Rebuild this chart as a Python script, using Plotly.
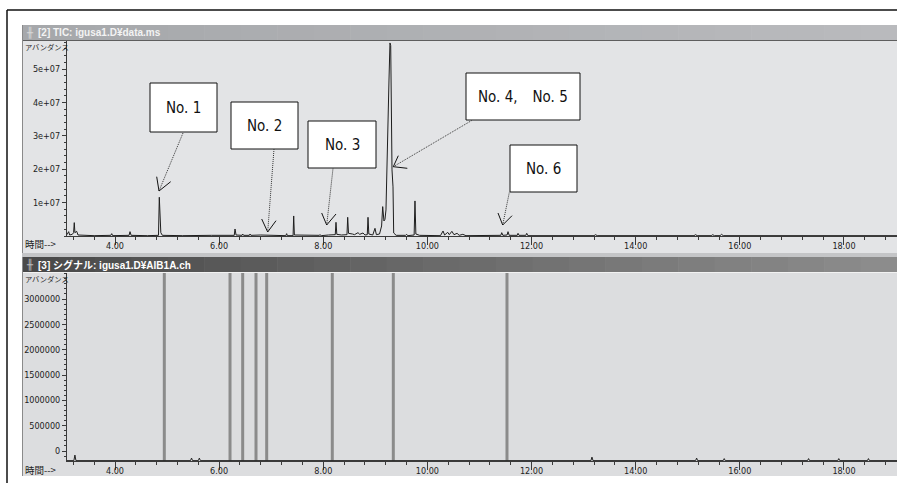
import plotly.graph_objects as go

W, H = 897, 483

# ---------------- data ----------------
# TIC chromatogram vertices: retention time (min) and abundance (x1e6 counts)
TIC_TIME = [3.078, 3.11, 3.13, 3.18, 3.205, 3.218, 3.23, 3.264, 3.29, 3.40, 3.60,
            3.92, 3.937, 3.955, 4.27, 4.288, 4.31, 4.62, 4.835, 4.851, 4.866, 4.88,
            4.91, 5.30, 5.85, 6.05, 6.29, 6.305, 6.325, 6.44, 6.452, 6.47, 6.58,
            6.593, 6.61, 6.80, 7.00, 7.28, 7.297, 7.31, 7.42, 7.432, 7.445, 7.70,
            7.92, 7.937, 7.96, 8.10, 8.23, 8.244, 8.26, 8.35, 8.455, 8.469, 8.485,
            8.56, 8.60, 8.667, 8.70, 8.763, 8.80, 8.845, 8.859, 8.875, 8.95, 8.993,
            9.02, 9.08, 9.12, 9.141, 9.165, 9.185, 9.204, 9.262, 9.281, 9.295,
            9.320, 9.339, 9.345, 9.352, 9.40, 9.58, 9.602, 9.62, 9.745, 9.761,
            9.778, 9.85, 10.25, 10.30, 10.33, 10.39, 10.42, 10.47, 10.51, 10.57,
            10.61, 10.68, 10.74, 11.10, 11.41, 11.427, 11.45, 11.53, 11.548, 11.57,
            11.725, 11.74, 11.76, 11.89, 11.907, 11.93, 12.30, 13.20, 13.23, 13.26,
            15.12, 15.15, 15.18, 15.45, 15.48, 15.51, 15.62, 15.65, 15.68, 19.02]
TIC_ABUND_M = [0.4, 1.3, 0.3, 0.5, 1.0, 4.0, 1.0, 1.4, 0.3, 0.2, 0.1,
               0.2, 0.7, 0.1, 0.2, 1.3, 0.2, 0.1, 0.2, 11.6, 7.5, 1.0,
               0.2, 0.1, 0.2, 0.1, 0.2, 2.1, 0.3, 0.2, 0.6, 0.2, 0.2,
               0.6, 0.2, 0.3, 0.2, 0.1, 0.7, 0.1, 0.1, 6.0, 0.3, 0.2,
               0.2, 0.4, 0.1, 0.3, 0.4, 4.1, 0.5, 0.3, 0.4, 5.6, 0.8,
               0.6, 0.4, 1.0, 0.5, 0.9, 0.3, 0.4, 5.6, 0.6, 0.3, 2.3,
               0.4, 0.6, 3.0, 8.8, 4.5, 5.0, 7.8, 46.7, 57.8, 57.0,
               19.8, 14.7, 4.0, 0.9, 0.2, 0.2, 0.5, 0.1, 0.3, 10.5,
               0.6, 0.2, 0.1, 1.5, 0.3, 1.1, 0.4, 1.4, 0.4, 0.8,
               0.2, 0.5, 0.1, 0.1, 0.2, 1.0, 0.2, 0.3, 1.3, 0.2,
               0.2, 0.8, 0.2, 0.2, 0.8, 0.1, 0.1, 0.1, 0.4, 0.1,
               0.1, 0.4, 0.1, 0.1, 0.4, 0.1, 0.1, 0.5, 0.1, 0.1]

# Signal channel: off-scale peaks (retention time, height) and baseline level
SIG_PEAK_TIME = [4.947, 6.209, 6.452, 6.708, 6.913, 8.173, 9.345, 11.528]
SIG_PEAK_HEIGHT = [3.6e6, 3.6e6, 3.6e6, 3.6e6, 3.6e6, 3.6e6, 3.7e6, 3.7e6]
SIG_BASELINE = -190000
SIG_NOISE_TIME = [3.078, 3.21, 3.23, 3.25, 5.45, 5.47, 5.49, 5.60, 5.62, 5.64,
                  13.14, 13.16, 13.18, 15.15, 15.17, 15.19, 15.68, 15.70, 15.72,
                  17.30, 17.32, 17.34, 17.88, 17.90, 17.92, 18.45, 18.47, 18.49, 19.02]
SIG_NOISE_VALUE = [-190000, -190000, -80000, -190000, -190000, -140000, -190000,
                   -190000, -140000, -190000, -190000, -120000, -190000, -190000,
                   -140000, -190000, -190000, -150000, -190000, -190000, -150000,
                   -190000, -190000, -150000, -190000, -190000, -150000, -190000,
                   -190000]

TIC_YTICKS = [1e7, 2e7, 3e7, 4e7, 5e7]
TIC_YTICK_TEXT = ["1e+07", "2e+07", "3e+07", "4e+07", "5e+07"]
SIG_YTICKS = [0, 500000, 1000000, 1500000, 2000000, 2500000, 3000000]

LABELS = ["No. 1", "No. 2", "No. 3", "No. 4,\u3000No. 5", "No. 6"]

TITLE_TIC = "[2] TIC: igusa1.D\u00a5data.ms"
TITLE_SIG = "[3] \u30b7\u30b0\u30ca\u30eb: igusa1.D\u00a5AIB1A.ch"
Y_TITLE = "\u30a2\u30d0\u30f3\u30c0\u30f3\u30b9"
X_TITLE = "\u6642\u9593-->"

# ---------------- layout helpers (pixel -> paper) ----------------
def px(x):
    return x / W


def py(y):
    return 1 - y / H


TIC_Y_SCALE = [v * 1e6 for v in TIC_ABUND_M]

NARROW = "Liberation Sans Narrow, Arial Narrow, DejaVu Sans Condensed, Roboto Condensed, sans-serif"
JP = "Noto Sans CJK JP, sans-serif"

fig = go.Figure()

fig.add_trace(go.Scatter(
    x=TIC_TIME, y=TIC_Y_SCALE, mode="lines",
    line=dict(color="#1e1e1e", width=1), xaxis="x", yaxis="y",
    showlegend=False, hoverinfo="skip"))

sx, sy = [], []
for t, h in zip(SIG_PEAK_TIME, SIG_PEAK_HEIGHT):
    sx += [t, t, None]
    sy += [SIG_BASELINE, h, None]
fig.add_trace(go.Scatter(
    x=sx, y=sy, mode="lines", line=dict(color="#8b8b8b", width=3),
    xaxis="x2", yaxis="y2", showlegend=False, hoverinfo="skip"))
fig.add_trace(go.Scatter(
    x=SIG_NOISE_TIME, y=SIG_NOISE_VALUE, mode="lines",
    line=dict(color="#222222", width=1), xaxis="x2", yaxis="y2",
    showlegend=False, hoverinfo="skip"))

X0_PX, X1_PX = 67, 897
T_AT_4, PX_PER_MIN = 115, 52.07
xr = [4 + (X0_PX - T_AT_4) / PX_PER_MIN, 4 + (X1_PX - T_AT_4) / PX_PER_MIN]

tick_font = dict(family=NARROW, size=9, color="#222222")

xcommon = dict(range=xr, showgrid=False, zeroline=False, showline=True,
               linecolor="#3a3a3a", linewidth=1, ticks="outside", ticklen=8,
               tickcolor="#3a3a3a", tickwidth=1, dtick=2, tick0=0,
               tickformat=".2f", tickfont=tick_font, ticklabelstandoff=-7,
               minor=dict(ticks="outside", ticklen=3, dtick=0.4, tick0=0,
                          tickcolor="#3a3a3a", showgrid=False))

# top: 0 at y=236 px, 1e7 per 33.4 px, top of plot at 41 px
top_range = [0, (236 - 41) / 33.4 * 1e7]
# bottom: 0 at 451 px, 500000 per 25.33 px; plot from 273 to 461 px
bot_range = [-(461 - 451) / 25.33 * 5e5, (451 - 273) / 25.33 * 5e5]

ycommon = dict(showgrid=False, zeroline=False, showline=True, linecolor="#3a3a3a",
               linewidth=1, ticks="outside", ticklen=4, tickcolor="#3a3a3a",
               tickfont=tick_font)

fig.update_layout(
    width=W, height=H, margin=dict(l=0, r=0, t=0, b=0),
    paper_bgcolor="white", plot_bgcolor="rgba(0,0,0,0)",
    xaxis=dict(domain=[px(X0_PX), 1], anchor="y", **xcommon),
    yaxis=dict(domain=[py(236), py(41)], anchor="x", range=top_range,
               tickmode="array", tickvals=TIC_YTICKS, ticktext=TIC_YTICK_TEXT,
               minor=dict(ticks="outside", ticklen=2, dtick=2e6, tick0=0,
                          tickcolor="#3a3a3a", showgrid=False),
               **ycommon),
    xaxis2=dict(domain=[px(X0_PX), 1], anchor="y2", **xcommon),
    yaxis2=dict(domain=[py(461), py(273)], anchor="x2", range=bot_range,
                tickmode="array", tickvals=SIG_YTICKS,
                ticktext=[str(v) for v in SIG_YTICKS],
                minor=dict(ticks="outside", ticklen=2, dtick=100000, tick0=0,
                           tickcolor="#3a3a3a", showgrid=False),
                **ycommon),
)

shapes = []


def rect(x0, y0, x1, y1, fill, line=None, layer="below", lw=1):
    shapes.append(dict(type="rect", xref="paper", yref="paper",
                       x0=px(x0), x1=px(x1), y0=py(y1), y1=py(y0),
                       fillcolor=fill, layer=layer,
                       line=dict(width=lw if line else 0, color=line or fill)))


def seg(x0, y0, x1, y1, color, width=1, dash="solid", layer="above"):
    shapes.append(dict(type="line", xref="paper", yref="paper",
                       x0=px(x0), y0=py(y0), x1=px(x1), y1=py(y1), layer=layer,
                       line=dict(color=color, width=width, dash=dash)))


def hexmix(c0, c1, f):
    a = [int(c0[i:i + 2], 16) for i in (1, 3, 5)]
    b = [int(c1[i:i + 2], 16) for i in (1, 3, 5)]
    return "#" + "".join(f"{round(a[k] + (b[k] - a[k]) * f):02x}" for k in range(3))


def gradient_bar(x0, x1, y0, y1, c0, c1, n=24):
    step = (x1 - x0) / n
    for i in range(n):
        rect(x0 + i * step, y0, x0 + (i + 1) * step + 0.6, y1, hexmix(c0, c1, i / (n - 1)))


# outer frame
seg(7, 10, 897, 10, "#111111", 1.5, layer="below")
seg(7, 10, 7, 483, "#111111", 1.5, layer="below")

# top panel
rect(22, 41, 897, 253, "#e3e4e6")
gradient_bar(22, 897, 25, 40, "#a6a8ab", "#b9babd")
seg(22, 40.5, 897, 40.5, "#5e5e5e", 1, layer="below")
seg(22.5, 25, 22.5, 253, "#8a8a8a", 1, layer="below")

# separator + bottom panel
rect(22, 253, 897, 257, "#c4c5c7")
gradient_bar(22, 897, 257, 272, "#4a4a4a", "#8c8c8c")
seg(22, 272.5, 897, 272.5, "#f2f2f2", 1, layer="below")
rect(22, 273, 897, 476, "#dcdddf")
seg(22.5, 257, 22.5, 476, "#8a8a8a", 1, layer="below")

# annotation boxes
BOXES = [(150, 83, 217, 132), (231, 102, 298, 149), (308, 121, 376, 168),
         (466, 73, 580, 120), (510, 145, 577, 192)]
ARROWS = [((183, 133), (159, 191), (156.7, 176.7), (170.7, 181.7)),
          ((274, 149), (267.7, 232), (261.7, 219), (276, 220.7)),
          ((333, 168.5), (326.7, 225), (321.7, 213), (336, 214)),
          ((471.7, 120.5), (393.3, 166.7), (398.3, 155.7), (407.3, 168.3)),
          ((509.3, 192.5), (502.7, 225), (498, 213), (512, 215.7))]

annotations = []
for (bx0, by0, bx1, by1), lab in zip(BOXES, LABELS):
    rect(bx0, by0, bx1, by1, "white", line="#111111", layer="above")
    annotations.append(dict(x=px((bx0 + bx1) / 2), y=py((by0 + by1) / 2 + 0.5),
                            xref="paper", yref="paper", text=lab, showarrow=False,
                            xanchor="center", yanchor="middle",
                            font=dict(family=NARROW, size=15, color="#111111")))

for start, tip, a1, a2 in ARROWS:
    seg(start[0], start[1], tip[0], tip[1], "#333333", 1, dash="1px,1px")
    seg(tip[0], tip[1], a1[0], a1[1], "#111111", 1)
    seg(tip[0], tip[1], a2[0], a2[1], "#111111", 1)

# panel texts
annotations += [
    dict(x=px(36), y=py(32.5), text=f"<b>{TITLE_TIC}</b>",
         font=dict(family="Liberation Sans, Noto Sans CJK JP", size=10, color="#f3f3f3")),
    dict(x=px(36), y=py(264.5), text=f"<b>{TITLE_SIG}</b>",
         font=dict(family="Liberation Sans, Noto Sans CJK JP", size=10, color="#ffffff")),
    dict(x=px(24), y=py(32.5), text="\u256b",
         font=dict(family="DejaVu Sans", size=10, color="#d8d8d8")),
    dict(x=px(24), y=py(264.5), text="\u256b",
         font=dict(family="DejaVu Sans", size=10, color="#bbbbbb")),
    dict(x=px(23), y=py(47), text=Y_TITLE,
         font=dict(family=JP, size=7.3, color="#222222")),
    dict(x=px(23), y=py(278.5), text=Y_TITLE,
         font=dict(family=JP, size=7.3, color="#222222")),
    dict(x=px(23), y=py(244), text=X_TITLE,
         font=dict(family=JP, size=9.5, color="#222222")),
    dict(x=px(23), y=py(469.5), text=X_TITLE,
         font=dict(family=JP, size=9.5, color="#222222")),
]
for a in annotations[-8:]:
    a.update(xref="paper", yref="paper", showarrow=False, xanchor="left",
             yanchor="middle")

fig.update_layout(shapes=shapes, annotations=annotations)
fig.write_html("out.html",
               config={"displayModeBar": False, "staticPlot": True},
               post_script="document.body.style.margin='0';"
                           "document.body.style.padding='0';"
                           "document.body.style.overflow='hidden';")
